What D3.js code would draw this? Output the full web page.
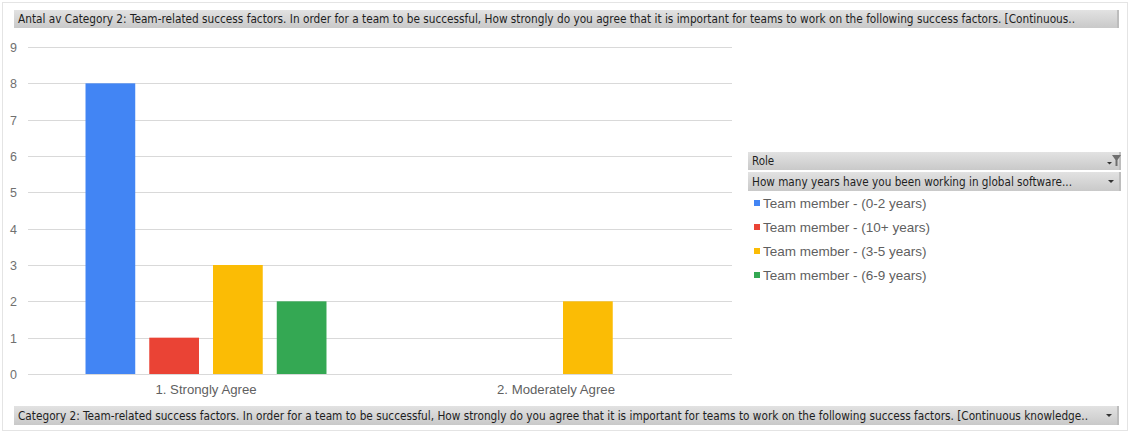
<!DOCTYPE html>
<html>
<head>
<meta charset="utf-8">
<script src="https://cdn.jsdelivr.net/npm/d3@7"></script>
<style>
  html, body { margin: 0; padding: 0; background: #fff; }
  svg { display: block; font-family: "Liberation Sans", Arial, sans-serif; }
</style>
</head>
<body>
<svg id="chart" width="1131" height="434"></svg>
<script>
// Answer categories on the x axis
const categories = ["1. Strongly Agree", "2. Moderately Agree"];
// Series (years of experience), in legend order
const seriesNames = [
  "Team member - (0-2 years)",
  "Team member - (10+ years)",
  "Team member - (3-5 years)",
  "Team member - (6-9 years)"
];
const seriesColors = ["#4285F4", "#EA4335", "#FBBC05", "#34A853"];
// Counts per series, one value per category (null = no answers)
const valuesYears0to2 = [8, null];
const valuesYears10plus = [1, null];
const valuesYears3to5 = [3, 2];
const valuesYears6to9 = [2, null];
const seriesValues = [valuesYears0to2, valuesYears10plus, valuesYears3to5, valuesYears6to9];
const yTicks = [0, 1, 2, 3, 4, 5, 6, 7, 8, 9];

const titleText = "Antal av Category 2: Team-related success factors. In order for a team to be successful, How strongly do you agree that it is important for teams to work on the following success factors. [Continuous..";
const footerText = "Category 2: Team-related success factors. In order for a team to be successful, How strongly do you agree that it is important for teams to work on the following success factors. [Continuous knowledge..";
const legendTitle = "Role";
const legendSubtitle = "How many years have you been working in global software...";

const svg = d3.select("#chart");

// gradient for the grey field buttons
const defs = svg.append("defs");
const grad = defs.append("linearGradient").attr("id", "btn").attr("x1", 0).attr("y1", 0).attr("x2", 0).attr("y2", 1);
grad.append("stop").attr("offset", "0%").attr("stop-color", "#e2e2e2");
grad.append("stop").attr("offset", "100%").attr("stop-color", "#c9c9c9");

// outer frame
svg.append("rect").attr("x", 2.5).attr("y", 2.5).attr("width", 1125).attr("height", 428)
  .attr("fill", "#fff").attr("stroke", "#e4e4e4");

// field button helper; fitWidth stretches the label to a fixed run length
function fieldButton(x, y, w, h, label, fitWidth, arrow, filter) {
  const g = svg.append("g").attr("transform", `translate(${x},${y})`);
  g.append("rect").attr("width", w).attr("height", h).attr("fill", "url(#btn)");
  g.append("rect").attr("x", w - 2).attr("width", 2).attr("height", h).attr("fill", "#bdbdbd");
  const t = g.append("text").attr("x", 4).attr("y", h / 2 + 4)
    .attr("font-family", "'DejaVu Sans Condensed', 'Liberation Sans Narrow', sans-serif")
    .attr("font-size", 11.5).attr("fill", "#1e1e1e").text(label);
  if (fitWidth) t.attr("textLength", fitWidth).attr("lengthAdjust", "spacingAndGlyphs");
  if (arrow) {
    g.append("path").attr("d", `M${w - 13},${h / 2 - 1.5} l6,0 l-3,3 z`).attr("fill", "#333");
  }
  if (filter) {
    g.append("path").attr("d", `M${w - 14},${h / 2 + 1} l5,0 l-2.5,2.5 z`).attr("fill", "#333");
    g.append("path").attr("d", `M${w - 9},${h / 2 - 6} l9,0 l-3.5,5 l0,6 l-2,0 l0,-6 z`).attr("fill", "#6e6e6e");
  }
  return g;
}

fieldButton(14, 10, 1105, 18, titleText, 1057, false, false);
fieldButton(14, 406, 1105, 19, footerText, 1070, true, false);
fieldButton(748, 152, 373, 18, legendTitle, null, false, true);
fieldButton(748, 172, 373, 19, legendSubtitle, 320, true, false);

// plot scales
const plot = { left: 31, right: 731, top: 47, bottom: 374 };
const x0 = d3.scaleBand().domain(categories).range([plot.left, plot.right]).padding(0);
const groupWidth = 255;
const x1 = d3.scaleBand().domain(d3.range(seriesNames.length))
  .range([-groupWidth / 2, groupWidth / 2]).paddingInner(0.22).paddingOuter(0.11);
const y = d3.scaleLinear().domain([0, 9]).range([plot.bottom, plot.top]);

// gridlines
svg.append("g").selectAll("line").data(yTicks).join("line")
  .attr("x1", 28).attr("x2", 732)
  .attr("y1", d => Math.round(y(d)) + 0.5).attr("y2", d => Math.round(y(d)) + 0.5)
  .attr("stroke", "#d9d9d9");

// y axis labels
const yAxis = d3.axisLeft(y).tickValues(yTicks).tickSize(0).tickPadding(0);
const yg = svg.append("g").attr("transform", "translate(17,0)").call(yAxis);
yg.select(".domain").remove();
yg.selectAll("text").attr("font-size", 12.5).attr("fill", "#707070")
  .attr("font-family", "'Liberation Sans', Arial, sans-serif").attr("dy", "0.35em");

// bars
const groups = svg.append("g").selectAll("g").data(categories).join("g")
  .attr("transform", c => `translate(${x0(c) + x0.bandwidth() / 2},0)`);
groups.selectAll("rect")
  .data((c, ci) => seriesValues.map((vals, si) => ({ si, v: vals[ci] })).filter(d => d.v != null))
  .join("rect")
  .attr("x", d => x1(d.si))
  .attr("width", x1.bandwidth())
  .attr("y", d => y(d.v))
  .attr("height", d => y(0) - y(d.v))
  .attr("fill", d => seriesColors[d.si]);

// x axis labels
const xAxis = d3.axisBottom(x0).tickSize(0).tickPadding(0);
const xg = svg.append("g").attr("transform", `translate(0,${plot.bottom + 20})`).call(xAxis);
xg.select(".domain").remove();
xg.selectAll("text").attr("font-size", 13.2).attr("fill", "#5f5f5f")
  .attr("font-family", "'Liberation Sans', Arial, sans-serif").attr("dy", 0);

// legend
const legend = svg.append("g").attr("transform", "translate(754,203)");
const items = legend.selectAll("g").data(seriesNames).join("g")
  .attr("transform", (d, i) => `translate(0,${i * 24})`);
items.append("rect").attr("x", 0).attr("y", -3).attr("width", 6).attr("height", 6)
  .attr("fill", (d, i) => seriesColors[i]);
items.append("text").attr("x", 9).attr("y", 5).attr("font-size", 13.5)
  .attr("fill", "#5f5f5f").attr("font-family", "'Liberation Sans', Arial, sans-serif")
  .text(d => d);
</script>
</body>
</html>
